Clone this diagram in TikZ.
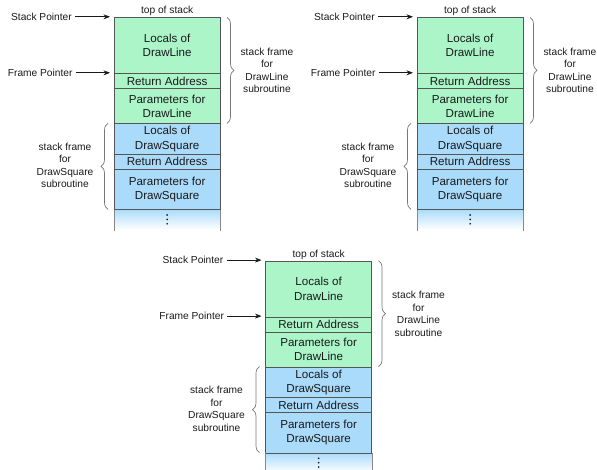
\documentclass[tikz,border=0pt]{standalone}
\usepackage{fontspec}
\setmainfont{Liberation Sans}
\usetikzlibrary{arrows.meta,decorations.pathreplacing}
\definecolor{framegreen}{HTML}{ABF5C9}
\definecolor{frameblue}{HTML}{AADBFB}
\definecolor{edgegrey}{HTML}{555555}
\definecolor{bracegrey}{HTML}{777777}
\definecolor{inkgrey}{HTML}{1A1A1A}
\begin{document}
\begin{tikzpicture}[x=1pt,y=-1pt,
  cell/.style={draw=edgegrey, line width=0.8pt, minimum width=105.7pt, inner sep=0pt, anchor=north, align=center, text=inkgrey, font=\fontsize{11.6}{14.3}\selectfont},
  green cell/.style={cell, fill=framegreen},
  blue cell/.style={cell, fill=frameblue},
  note/.style={align=center, text=inkgrey, font=\fontsize{10.2}{12.5}\selectfont, inner sep=0pt},
  pointer/.style={-{Stealth[length=6.5pt,width=5pt]}, line width=0.6pt, draw=inkgrey},
  framebrace/.style={decorate, decoration={brace, amplitude=7pt}, draw=bracegrey, line width=0.7pt},
  sideline/.style={draw=edgegrey!70, line width=0.8pt},
  dot/.style={fill=inkgrey, draw=none},
]
\useasboundingbox (0,0) rectangle (597,470);
\clip (0,0) rectangle (597,470);
\foreach \p/\dx/\dy in {a/0/0, b/303/0, c/151.5/243.3} {
\begin{scope}[shift={(\dx,\dy)}]
  % dots cell with gradient
  \shade[top color=frameblue, bottom color=white] (114.3,209.3) rectangle (220,229.5);
  \node[green cell, minimum height=56pt] (\p-l1) at (167.15,17.3) {Locals of\\DrawLine};
  \node[green cell, minimum height=15pt] (\p-r1) at (167.15,73.3) {Return Address};
  \node[green cell, minimum height=35pt] (\p-p1) at (167.15,88.3) {Parameters for\\DrawLine};
  \node[blue cell, minimum height=30.4pt] (\p-l2) at (167.15,123.3) {Locals of\\DrawSquare};
  \node[blue cell, minimum height=15.3pt] (\p-r2) at (167.15,153.7) {Return Address};
  \node[blue cell, minimum height=40.3pt] (\p-p2) at (167.15,169) {Parameters for\\DrawSquare};
  \draw[sideline] (\p-p2.south west) -- ++(0,21);
  \draw[sideline] (\p-p2.south east) -- ++(0,21);
  % vertical ellipsis
  \fill[dot] (167.15,215) circle (0.95);
  \fill[dot] (167.15,219.4) circle (0.95);
  \fill[dot] (167.15,223.8) circle (0.95);
  % top label
  \node[note] (\p-top) at (167.15,11.3) {top of stack};
  % pointers
  \node[note, anchor=east] (\p-sp) at (72,16.8) {Stack Pointer};
  \coordinate (\p-spt) at (110,16.8);
  \draw[pointer] ([xshift=3pt]\p-sp.east) -- (\p-spt);
  \node[note, anchor=east] (\p-fp) at (72.7,72.8) {Frame Pointer};
  \coordinate (\p-fpt) at (110,72.8);
  \draw[pointer] ([xshift=3pt]\p-fp.east) -- (\p-fpt);
  % braces
  \coordinate (\p-b1a) at (227,17.3);
  \coordinate (\p-b1b) at (227,123.3);
  \draw[framebrace] (\p-b1a) -- (\p-b1b);
  \node[note] (\p-f1) at (267,70.5) {stack frame\\for\\DrawLine\\subroutine};
  \coordinate (\p-b2a) at (108,209.3);
  \coordinate (\p-b2b) at (108,123.3);
  \draw[framebrace] (\p-b2a) -- (\p-b2b);
  \node[note] (\p-f2) at (65,165.5) {stack frame\\for\\DrawSquare\\subroutine};
\end{scope}
}
\end{tikzpicture}
\end{document}
